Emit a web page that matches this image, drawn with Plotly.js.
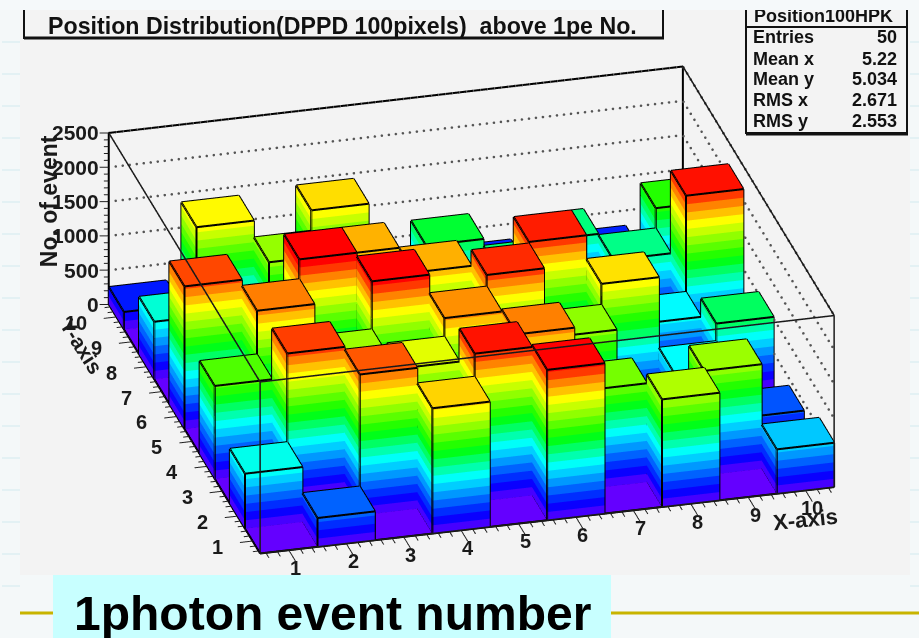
<!DOCTYPE html>
<html><head><meta charset="utf-8">
<script src="https://cdn.plot.ly/plotly-3.0.1.min.js"></script>
<style>html,body{margin:0;padding:0;background:#f4f8f9;overflow:hidden}#c{width:919px;height:638px}
#strip{position:absolute;left:0;top:0;width:919px;height:10px;background:#f5f9fa;z-index:50}</style>
</head><body><div id="c"></div><div id="strip"></div>
<script>
const xBins=[1,2,3,4,5,6,7,8,9,10];
const yBins=[1,2,3,4,5,6,7,8,9,10];
const zTicks=[0,500,1000,1500,2000,2500];
const row1=[0,420,0,1826,0,2192,0,1568,0,646];
const row2=[800,0,2052,0,2162,0,1440,0,1524,0];
const row3=[0,2092,0,1684,0,1984,0,650,0,388];
const row4=[1353,0,1525,0,1954,0,1494,0,772,0];
const row5=[0,1989,0,2224,0,2123,0,1800,0,1028];
const row6=[2078,0,2278,0,1894,0,2145,0,763,0];
const row7=[0,1150,0,1890,0,800,0,700,0,2165];
const row8=[837,0,1510,0,1000,0,1000,0,963,0];
const row9=[0,1755,0,1807,0,1100,0,980,0,1258];
const row10=[254,0,300,0,300,0,270,0,276,0];
const rows=[row1,row2,row3,row4,row5,row6,row7,row8,row9,row10];
const statLabels=['Entries','Mean x','Mean y','RMS x','RMS y'];
const statValues=['50','5.22','5.034','2.671','2.553'];
const titleText='Position Distribution(DPPD 100pixels)  above 1pe No.';
const statName='Position100HPK';
const captionText='1photon event number';

const palStops=[[0,[100,0,255]],[200,[0,0,255]],[770,[0,255,255]],[1180,[0,255,0]],[1745,[255,255,0]],[2000,[255,120,0]],[2190,[255,0,0]]];
function colorAt(z){
  if(z<=palStops[0][0])return 'rgb('+palStops[0][1]+')';
  for(let k=1;k<palStops.length;k++){
    if(z<=palStops[k][0]){
      const [a,ca]=palStops[k-1],[b,cb]=palStops[k],t=(z-a)/(b-a);
      return 'rgb('+ca.map((v,n)=>Math.round(v+(cb[n]-v)*t)).join(',')+')';
    }
  }
  return 'rgb(255,0,0)';
}
const bandStep=120;
const vx=[],vy=[],vz=[],fi=[],fj=[],fk=[],fc=[];
function quad(p,col){
  const n=vx.length;
  p.forEach(q=>{vx.push(q[0]);vy.push(q[1]);vz.push(q[2]);});
  fi.push(n,n);fj.push(n+1,n+2);fk.push(n+2,n+3);fc.push(col,col);
}
const ex=[],ey=[],ez=[];
function seg(a,b){ex.push(a[0],b[0],null);ey.push(a[1],b[1],null);ez.push(a[2],b[2],null);}
rows.forEach((r,jj)=>r.forEach((z,ii)=>{
  const x0=xBins[ii]-.5,x1=xBins[ii]+.5,y0=yBins[jj]-.5,y1=yBins[jj]+.5;
  quad([[x0,y0,z],[x1,y0,z],[x1,y1,z],[x0,y1,z]],colorAt(z));
  for(let b=0;b<z;b+=bandStep){
    const t=Math.min(b+bandStep,z),c=colorAt(b+bandStep/2);
    quad([[x0,y0,b],[x1,y0,b],[x1,y0,t],[x0,y0,t]],c);
    quad([[x0,y1,b],[x1,y1,b],[x1,y1,t],[x0,y1,t]],c);
    quad([[x0,y0,b],[x0,y1,b],[x0,y1,t],[x0,y0,t]],c);
    quad([[x1,y0,b],[x1,y1,b],[x1,y1,t],[x1,y0,t]],c);
  }
  const c=[[x0,y0],[x1,y0],[x1,y1],[x0,y1]];
  c.forEach((p,n)=>{const q=c[(n+1)%4];
    seg([p[0],p[1],z],[q[0],q[1],z]);
    if(z>0){seg([p[0],p[1],0],[q[0],q[1],0]);seg([p[0],p[1],0],[p[0],p[1],z]);}
  });
}));
const xLo=.5,xHi=10.5,yLo=.5,yHi=10.5,zHi=2500;
const tx=[],ty=[],tz=[];
function tick(a,b){tx.push(a[0],b[0],null);ty.push(a[1],b[1],null);tz.push(a[2],b[2],null);}
for(let v=.6;v<10.5;v+=.2){const m=Math.abs(v-Math.round(v))<.01&&Math.round(v)>=1;
  tick([v,yLo,0],[v,yLo-(m?.45:.2),0]);
  tick([xLo,v,0],[xLo-(m?.22:.1),v,0]);}
for(let v=0;v<=2500;v+=100){const m=v%500===0,l=m?.15:.08;
  tick([xLo,yHi,v],[xLo-l,yHi+l*.265,v]);}
const gx=[],gy=[],gz=[];
zTicks.slice(1).forEach(z=>{
  for(let t=.62;t<10.5;t+=.122){gx.push(t);gy.push(yHi);gz.push(z);}
  for(let t=.62;t<10.5;t+=.24){gx.push(xHi);gy.push(t);gz.push(z);}
});
const blackLine={color:'#000',width:4};
const traces=[
 {type:'mesh3d',x:vx,y:vy,z:vz,i:fi,j:fj,k:fk,facecolor:fc,flatshading:true,scene:'scene',hoverinfo:'skip',
  lighting:{ambient:1,diffuse:0,specular:0,roughness:1,fresnel:0},showscale:false},
 {type:'scatter3d',mode:'lines',x:ex,y:ey,z:ez,line:blackLine,scene:'scene',hoverinfo:'skip',showlegend:false},
 {type:'scatter3d',mode:'lines',x:tx,y:ty,z:tz,line:{color:'#222',width:2},scene:'scene',hoverinfo:'skip',showlegend:false},
 {type:'scatter3d',mode:'markers',x:gx,y:gy,z:gz,marker:{color:'#555',size:1.5,line:{width:0}},scene:'scene',hoverinfo:'skip',showlegend:false},
 {type:'scatter3d',mode:'lines',x:[xLo,xLo,xHi,xHi,xHi],y:[yHi,yHi,yHi,yHi,yLo],z:[0,zHi,zHi,0,0],line:blackLine,scene:'scene',hoverinfo:'skip',showlegend:false},
 {type:'scatter3d',mode:'lines',
  x:[xLo,xLo,xHi,xHi,null,xLo,xLo,null,xHi,xHi,null,xLo,xHi],
  y:[yHi,yLo,yLo,yHi,null,yLo,yLo,null,yLo,yLo,null,yLo,yLo],
  z:[zHi,zHi,zHi,zHi,null,0,zHi,null,0,zHi,null,0,0],line:{color:'#1a1a1a',width:3},scene:'scene2',hoverinfo:'skip',showlegend:false}
];
const m=1;
const hidden={visible:false};
const eyeLen=4;
const camera={center:{x:0,y:0,z:0},up:{x:0,y:0,z:1},eye:{x:-.2306*eyeLen,y:-.8696*eyeLen,z:.4364*eyeLen},projection:{type:'orthographic'}};
const aspect={x:2.299,y:2.285,z:.861};
const dom={x:[.026,1],y:[.0285,1]};
function sceneCfg(ann){return {
  domain:dom,camera:camera,aspectmode:'manual',aspectratio:aspect,bgcolor:'rgba(0,0,0,0)',
  xaxis:Object.assign({range:[xLo-m,xHi+m]},hidden),
  yaxis:Object.assign({range:[yLo-m,yHi+m]},hidden),
  zaxis:Object.assign({range:[-500,3000]},hidden),
  annotations:ann||[]
};}
const ff='Liberation Sans, Arial, sans-serif';
const LF={family:ff,size:20,color:'#1a1a1a'};
const ann3=[];
function a3(x,y,z,text,dx,dy,extra){ann3.push(Object.assign({x,y,z,text:'<b>'+text+'</b>',showarrow:false,xshift:dx,yshift:dy,font:LF},extra||{}));}
xBins.forEach(v=>a3(v,yLo,0,String(v),7,-18));
yBins.forEach(v=>a3(xLo,v,0,String(v),v===10?-40:-35,-6));
zTicks.forEach(v=>a3(xLo,yHi,v,String(v),-8,0,{xanchor:'right',font:{family:ff,size:21,color:'#1a1a1a'}}));
a3(xHi,yLo,0,'X-axis',-29,-33,{textangle:-6,font:{family:ff,size:22,color:'#1a1a1a'}});
a3(xLo,yHi,0,'Y-axis',-27,-42,{textangle:58,font:{family:ff,size:21,color:'#1a1a1a'}});
a3(xLo,yHi,1500,'No. of event',-59,0,{textangle:-90,font:{family:ff,size:23,color:'#1a1a1a'}});
function px(x){return x/919;} function py(y){return 1-y/638;}
function rect(x0,y0,x1,y1,fill,line,w,layer){return {type:'rect',xref:'paper',yref:'paper',x0:px(x0),x1:px(x1),y0:py(y0),y1:py(y1),fillcolor:fill,line:{color:line||fill,width:w||0},layer:layer||'below'};}
function hline(x0,x1,y,col,w){return {type:'line',xref:'paper',yref:'paper',x0:px(x0),x1:px(x1),y0:py(y),y1:py(y),line:{color:col,width:w},layer:'below'};}
const shapes=[rect(20,10,910,575,'#f3f3f3')];
for(let y=42;y<600;y+=32){shapes.push(hline(2,20,y,'#e3f1f4',2));shapes.push(hline(910,919,y,'#e3f1f4',2));}
shapes.push(rect(24,4,663,38,'#f3f3f3','#111',2));
shapes.push(hline(24,664,38,'#111',3));
shapes.push(rect(746,4,907,133,'#f3f3f3','#111',2));
shapes.push(hline(746,908,134,'#111',3));
shapes.push(hline(746,907,27,'#111',2));
shapes.push(hline(20,53,613,'#c8b400',3));
shapes.push(hline(611,919,613,'#c8b400',3));
shapes.push(rect(53,575,611,638,'#c8ffff'));
const TF={family:ff,color:'#111'};
function note(x,y,text,size,anchor,col){return {xref:'paper',yref:'paper',x:px(x),y:py(y),xanchor:anchor||'center',yanchor:'middle',text:'<b>'+text+'</b>',showarrow:false,font:Object.assign({size:size},TF,col?{color:col}:{})};}
const annotations=[note(342,26,titleText,23.2),note(823,16,statName,18),note(332,613,captionText,48,'center','#000')];
const rowY=[37,59,79,100,121];
statLabels.forEach((t,n)=>{
 annotations.push(note(751,rowY[n],t,18,'left'));
 annotations.push(note(899,rowY[n],statValues[n],18,'right'));
});
Plotly.newPlot('c',traces,{
  width:919,height:638,margin:{l:0,r:0,t:0,b:0},paper_bgcolor:'#f4f8f9',showlegend:false,
  scene:sceneCfg(),scene2:sceneCfg(ann3),shapes,annotations
},{displayModeBar:false});
</script></body></html>
